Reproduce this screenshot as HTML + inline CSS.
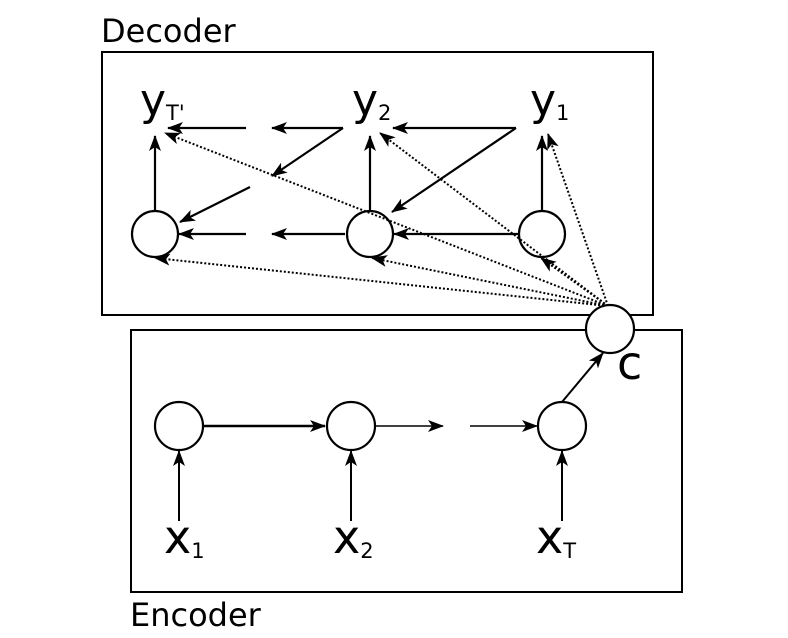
<!DOCTYPE html>
<html><head><style>
html,body{margin:0;padding:0;background:#fff;}
svg{display:block;font-family:"DejaVu Sans","Liberation Sans",sans-serif;}
</style></head><body>
<svg width="788" height="638" viewBox="0 0 788 638" xmlns="http://www.w3.org/2000/svg">
<defs>
<marker id="a" viewBox="0 0 16 12" refX="15" refY="6" markerWidth="16" markerHeight="12" markerUnits="userSpaceOnUse" orient="auto">
<path d="M0,0 L16,6 L0,12 L4,6 Z" fill="#000"/>
</marker>
</defs>
<g fill="none" stroke="#000" stroke-width="2">
<rect x="102" y="52" width="551" height="263"/>
<rect x="131" y="330" width="551" height="262"/>
</g>
<text x="101" y="42" font-size="32">Decoder</text>
<text x="130" y="626" font-size="32">Encoder</text>

<g fill="#fff" stroke="#000" stroke-width="2.2">
<circle cx="155" cy="234" r="23"/>
<circle cx="370" cy="234" r="23"/>
<circle cx="542" cy="234" r="23"/>
</g>
<g font-size="44">
<text x="140" y="115">y<tspan font-size="21" dy="5">T'</tspan></text>
<text x="352" y="115">y<tspan font-size="21" dy="5">2</tspan></text>
<text x="530" y="115">y<tspan font-size="21" dy="5">1</tspan></text>
</g>
<g stroke="#000" stroke-width="2.2" marker-end="url(#a)">
<line x1="155" y1="211" x2="155" y2="136"/>
<line x1="370" y1="211" x2="370" y2="136"/>
<line x1="542" y1="211" x2="542" y2="136"/>
<line x1="246" y1="128" x2="168" y2="128"/>
<line x1="343" y1="128" x2="272" y2="128"/>
<line x1="343" y1="128" x2="272" y2="176"/>
<line x1="250" y1="187" x2="180" y2="222"/>
<line x1="516" y1="128" x2="393" y2="128"/>
<line x1="516" y1="128" x2="392" y2="212"/>
<line x1="519" y1="234" x2="394" y2="234"/>
<line x1="246" y1="234" x2="179" y2="234"/>
<line x1="345" y1="234" x2="272" y2="234"/>
</g>
<g stroke="#000" stroke-width="2" stroke-dasharray="2,2" marker-end="url(#a)">
<line x1="608" y1="306" x2="165" y2="133"/>
<line x1="608" y1="306" x2="380" y2="133"/>
<line x1="608" y1="306" x2="548" y2="134"/>
<line x1="608" y1="306" x2="155" y2="258"/>
<line x1="608" y1="306" x2="372" y2="258"/>
<line x1="608" y1="306" x2="541" y2="258"/>
</g>

<g fill="#fff" stroke="#000" stroke-width="2.2">
<circle cx="179" cy="426" r="24"/>
<circle cx="351" cy="426" r="24"/>
<circle cx="562" cy="426" r="24"/>
<circle cx="610" cy="329" r="24"/>
</g>
<text x="617" y="379" font-size="46">c</text>
<g stroke="#000" stroke-width="2" marker-end="url(#a)">
<line x1="203" y1="426" x2="325" y2="426" stroke-width="2.5"/>
<line x1="375" y1="426" x2="443" y2="426" stroke-width="1.5"/>
<line x1="470" y1="426" x2="537" y2="426" stroke-width="1.5"/>
<line x1="179" y1="521" x2="179" y2="451"/>
<line x1="351" y1="521" x2="351" y2="451"/>
<line x1="562" y1="521" x2="562" y2="451"/>
<line x1="562" y1="402" x2="603" y2="353"/>
</g>
<g font-size="46">
<text x="164" y="553">x<tspan font-size="21" dy="5">1</tspan></text>
<text x="333" y="553">x<tspan font-size="21" dy="5">2</tspan></text>
<text x="536" y="553">x<tspan font-size="21" dy="5">T</tspan></text>
</g>
</svg>
</body></html>
